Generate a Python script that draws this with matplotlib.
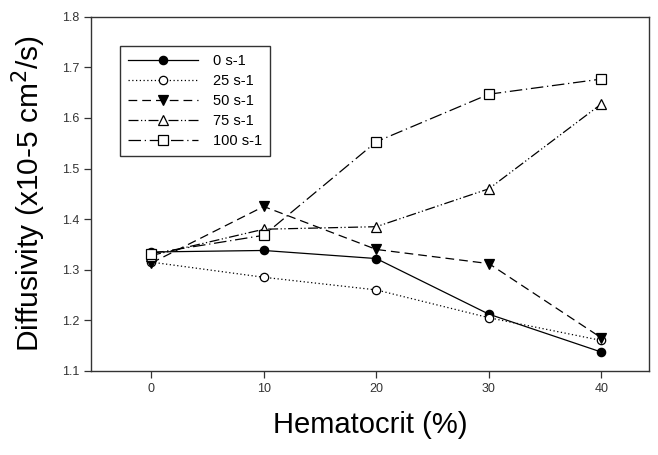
import matplotlib.pyplot as plt

plt.rcParams['font.family'] = ['Liberation Sans', 'DejaVu Sans']

hematocrit = [0, 10, 20, 30, 40]
labels = ['0 s-1', '25 s-1', '50 s-1', '75 s-1', '100 s-1']
d_0 = [1.335, 1.338, 1.322, 1.212, 1.137]
d_25 = [1.315, 1.285, 1.260, 1.205, 1.160]
d_50 = [1.313, 1.425, 1.340, 1.312, 1.165]
d_75 = [1.328, 1.380, 1.385, 1.460, 1.628]
d_100 = [1.332, 1.368, 1.553, 1.647, 1.677]
y_ticks = [1.1, 1.2, 1.3, 1.4, 1.5, 1.6, 1.7, 1.8]
x_ticks = [0, 10, 20, 30, 40]

fig = plt.figure(figsize=(6.58, 4.55), dpi=100)
ax = fig.add_axes([0.139, 0.185, 0.847, 0.778])

k = dict(color='black', lw=0.9, mec='black', mew=0.9)
ax.plot(hematocrit, d_0, ls='-', marker='o', mfc='black', ms=6, label=labels[0], **k)
ax.plot(hematocrit, d_25, ls=(0, (1, 2)), marker='o', mfc='white', ms=6, label=labels[1], **k)
ax.plot(hematocrit, d_50, ls=(0, (7, 4)), marker='v', mfc='black', ms=7, label=labels[2], **k)
ax.plot(hematocrit, d_75, ls=(0, (8, 2, 1, 2, 1, 2)), marker='^', mfc='white', ms=7, label=labels[3], **k)
ax.plot(hematocrit, d_100, ls=(0, (10, 3, 1, 3)), marker='s', mfc='white', ms=7, label=labels[4], **k)

ax.set_xlim(-5.3, 44.2)
ax.set_ylim(1.1, 1.8)
ax.set_xticks(x_ticks)
ax.set_yticks(y_ticks)
ax.set_yticklabels(['%.1f' % v for v in y_ticks])
ax.tick_params(direction='out', length=5, width=0.9, labelsize=9, colors='#333333', labelcolor='#333333')
for s in ax.spines.values():
    s.set_linewidth(1.0)
    s.set_color('#333333')

ax.set_xlabel('Hematocrit (%)', fontsize=21, labelpad=12)
ax.set_ylabel('Diffusivity (x10-5 cm$^{2}$/s)', fontsize=21.5, labelpad=10)

leg = ax.legend(loc='upper left', bbox_to_anchor=(0.052, 0.918), fontsize=10.5, frameon=True,
                fancybox=False, edgecolor='black', handlelength=4.8, borderpad=0.55,
                labelspacing=0.42, handletextpad=1.0, borderaxespad=0)
leg.get_frame().set_linewidth(1.0)

fig.savefig('out.png', dpi=100)
